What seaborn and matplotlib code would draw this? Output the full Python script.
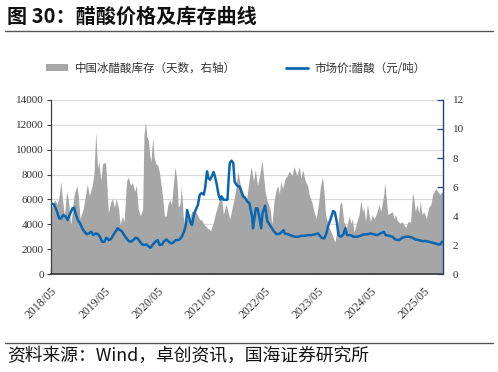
import matplotlib
matplotlib.use("Agg")
import matplotlib.pyplot as plt
import matplotlib.dates as mdates
from matplotlib.patches import Patch
from matplotlib.lines import Line2D
import pandas as pd
import seaborn as sns

# ---------------------------------------------------------------------------
# Data
# ---------------------------------------------------------------------------
# 中国冰醋酸库存（天数，右轴）
inv_dates = [
    "2018-05-01", "2018-05-16", "2018-05-28", "2018-06-13", "2018-06-28", "2018-07-07",
    "2018-07-19", "2018-08-01", "2018-08-16", "2018-08-28", "2018-09-13", "2018-10-07",
    "2018-10-25", "2018-11-04", "2018-11-16", "2018-12-08", "2019-01-05", "2019-01-19",
    "2019-02-07", "2019-02-19", "2019-03-04", "2019-03-16", "2019-03-25", "2019-04-07",
    "2019-04-19", "2019-05-10", "2019-05-19", "2019-05-29", "2019-06-16", "2019-06-25",
    "2019-07-10", "2019-07-22", "2019-08-07", "2019-08-19", "2019-09-01", "2019-09-14",
    "2019-10-01", "2019-10-13", "2019-10-28", "2019-11-10", "2019-11-25", "2019-12-07",
    "2019-12-19", "2020-01-04", "2020-01-19", "2020-01-28", "2020-02-07", "2020-02-16",
    "2020-02-28", "2020-03-07", "2020-03-16", "2020-03-28", "2020-04-07", "2020-04-19",
    "2020-05-01", "2020-05-13", "2020-05-25", "2020-06-04", "2020-06-16", "2020-06-28",
    "2020-07-10", "2020-07-22", "2020-08-04", "2020-08-16", "2020-08-28", "2020-09-10",
    "2020-09-19", "2020-10-01", "2020-10-10", "2020-10-22", "2020-11-04", "2020-11-19",
    "2020-12-04", "2020-12-19", "2021-01-07", "2021-01-22", "2021-02-10", "2021-02-27",
    "2021-03-16", "2021-04-04", "2021-04-28", "2021-05-13", "2021-06-04", "2021-06-25",
    "2021-07-10", "2021-07-25", "2021-08-13", "2021-09-07", "2021-09-28", "2021-10-16",
    "2021-11-01", "2021-11-19", "2021-12-10", "2022-01-01", "2022-01-19", "2022-02-01",
    "2022-02-16", "2022-03-01", "2022-03-16", "2022-03-28", "2022-04-16", "2022-04-28",
    "2022-05-07", "2022-05-22", "2022-06-10", "2022-06-22", "2022-07-07", "2022-07-19",
    "2022-08-01", "2022-08-13", "2022-08-22", "2022-09-04", "2022-09-22", "2022-10-07",
    "2022-10-19", "2022-11-07", "2022-11-22", "2022-12-10", "2022-12-28", "2023-01-07",
    "2023-01-19", "2023-02-07", "2023-02-22", "2023-03-04", "2023-03-22", "2023-04-07",
    "2023-04-22", "2023-05-07", "2023-05-22", "2023-06-04", "2023-06-16", "2023-06-25",
    "2023-07-19", "2023-08-10", "2023-08-28", "2023-09-16", "2023-10-01", "2023-10-13",
    "2023-10-28", "2023-11-16", "2023-12-04", "2023-12-16", "2023-12-25", "2024-01-07",
    "2024-01-25", "2024-02-10", "2024-02-22", "2024-03-04", "2024-03-13", "2024-03-25",
    "2024-04-07", "2024-04-19", "2024-04-28", "2024-05-10", "2024-05-22", "2024-06-01",
    "2024-06-13", "2024-06-25", "2024-07-07", "2024-07-16", "2024-07-28", "2024-08-04",
    "2024-08-16", "2024-08-25", "2024-09-10", "2024-09-25", "2024-10-07", "2024-10-16",
    "2024-10-28", "2024-11-16", "2024-12-01", "2024-12-13", "2024-12-25", "2025-01-10",
    "2025-01-28", "2025-02-10", "2025-02-19", "2025-03-01", "2025-03-13", "2025-03-25",
    "2025-04-04", "2025-04-16", "2025-04-28", "2025-05-16", "2025-06-01", "2025-06-16",
    "2025-06-28", "2025-07-10", "2025-07-19", "2025-08-01", "2025-08-16", "2025-09-04",
]
inv_days = [
    4.5, 4.9, 5.1, 4.8, 5.5, 6.4,
    5.1, 4.0, 5.7, 5.1, 3.4, 5.5,
    6.1, 5.4, 3.8, 4.5, 6.2, 5.4,
    6.1, 6.9, 9.8, 7.3, 7.8, 6.4,
    7.6, 7.7, 6.1, 4.2, 5.0, 5.2,
    4.6, 5.2, 4.5, 3.4, 4.0, 3.6,
    6.4, 6.7, 6.1, 6.3, 5.7, 6.1,
    4.5, 4.0, 4.5, 9.6, 10.5, 9.5,
    9.2, 8.2, 7.8, 9.4, 8.0, 7.6,
    7.5, 7.0, 6.1, 5.3, 4.0, 4.0,
    4.8, 5.1, 4.8, 6.1, 7.4, 6.4,
    4.6, 4.8, 6.1, 4.1, 3.2, 3.9,
    3.6, 4.3, 4.4, 4.2, 3.8, 3.7,
    3.4, 3.2, 3.0, 3.4, 4.3, 5.0,
    5.5, 4.1, 4.8, 3.8, 4.8, 5.7,
    7.1, 6.1, 5.5, 5.2, 6.6, 7.4,
    6.4, 7.2, 6.1, 6.7, 7.8, 6.6,
    5.7, 5.0, 4.5, 3.4, 5.0, 5.7,
    6.1, 5.5, 6.4, 5.9, 6.6, 6.8,
    7.1, 6.8, 7.4, 6.8, 7.4, 6.6,
    7.2, 6.4, 6.1, 5.5, 5.0, 4.3,
    3.8, 4.8, 6.1, 6.7, 5.5, 4.1,
    3.2, 2.7, 2.2, 3.2, 4.8, 5.0,
    3.6, 3.2, 4.0, 3.5, 3.8, 2.9,
    3.6, 4.1, 5.1, 4.3, 4.6, 3.6,
    4.8, 4.1, 3.6, 4.1, 3.8, 4.0,
    4.3, 4.8, 4.3, 4.8, 5.5, 6.3,
    5.0, 4.1, 4.2, 4.3, 3.8, 4.1,
    3.7, 3.5, 3.6, 3.4, 3.2, 3.6,
    3.6, 5.6, 5.2, 4.3, 4.8, 4.2,
    5.0, 4.1, 4.3, 3.8, 4.6, 4.8,
    5.5, 5.7, 5.9, 5.7, 5.5, 5.7,
]

# 市场价:醋酸（元/吨）
price_dates = [
    "2018-05-02", "2018-05-23", "2018-06-10", "2018-06-25", "2018-07-07", "2018-07-25",
    "2018-08-10", "2018-08-23", "2018-09-10", "2018-09-25", "2018-10-07", "2018-10-16",
    "2018-11-01", "2018-11-16", "2018-12-01", "2018-12-16", "2019-01-01", "2019-01-16",
    "2019-02-01", "2019-02-15", "2019-03-04", "2019-03-19", "2019-04-01", "2019-04-16",
    "2019-05-01", "2019-05-16", "2019-06-01", "2019-06-16", "2019-07-01", "2019-07-16",
    "2019-08-01", "2019-08-16", "2019-09-01", "2019-09-14", "2019-10-01", "2019-10-16",
    "2019-11-01", "2019-11-16", "2019-12-01", "2019-12-16", "2020-01-01", "2020-01-16",
    "2020-01-28", "2020-02-16", "2020-03-01", "2020-03-13", "2020-03-29", "2020-04-16",
    "2020-05-01", "2020-05-14", "2020-06-01", "2020-06-14", "2020-07-01", "2020-07-16",
    "2020-08-01", "2020-08-16", "2020-09-01", "2020-09-13", "2020-09-28", "2020-10-13",
    "2020-10-28", "2020-11-10", "2020-11-19", "2020-11-28", "2020-12-10", "2020-12-22",
    "2021-01-04", "2021-01-16", "2021-02-01", "2021-02-13", "2021-02-27", "2021-03-13",
    "2021-03-22", "2021-04-04", "2021-04-13", "2021-04-25", "2021-05-07", "2021-05-19",
    "2021-05-28", "2021-06-10", "2021-06-22", "2021-07-04", "2021-07-13", "2021-07-25",
    "2021-08-10", "2021-08-22", "2021-09-01", "2021-09-07", "2021-09-19", "2021-10-01",
    "2021-10-10", "2021-10-22", "2021-11-04", "2021-11-13", "2021-11-25", "2021-12-07",
    "2021-12-22", "2022-01-04", "2022-01-19", "2022-02-07", "2022-02-13", "2022-03-04",
    "2022-03-16", "2022-03-28", "2022-04-10", "2022-04-19", "2022-05-07", "2022-05-22",
    "2022-06-13", "2022-07-04", "2022-07-25", "2022-08-16", "2022-09-10", "2022-09-19",
    "2022-10-13", "2022-11-04", "2022-11-28", "2022-12-19", "2023-01-13", "2023-02-04",
    "2023-02-27", "2023-03-19", "2023-04-13", "2023-05-04", "2023-05-28", "2023-06-16",
    "2023-07-01", "2023-07-13", "2023-08-01", "2023-08-16", "2023-08-28", "2023-09-10",
    "2023-09-22", "2023-10-10", "2023-10-25", "2023-11-07", "2023-11-19", "2023-12-13",
    "2024-01-04", "2024-01-28", "2024-02-19", "2024-03-13", "2024-04-07", "2024-04-28",
    "2024-05-22", "2024-06-13", "2024-07-07", "2024-07-28", "2024-08-10", "2024-09-01",
    "2024-09-25", "2024-10-16", "2024-11-10", "2024-12-01", "2024-12-25", "2025-01-16",
    "2025-02-10", "2025-03-01", "2025-03-25", "2025-04-16", "2025-05-10", "2025-06-01",
    "2025-06-22", "2025-07-16", "2025-08-07", "2025-08-19", "2025-09-01",
]
price_vals = [
    5690, 5580, 5050, 4500, 4450, 4750,
    4610, 4340, 4880, 5280, 5340, 4880,
    4340, 4080, 3680, 3400, 3200, 3270,
    3400, 3130, 3270, 3200, 3000, 2600,
    2600, 2920, 2730, 2810, 3130, 3400,
    3680, 3540, 3400, 3130, 2860, 2650,
    2600, 2730, 2920, 2860, 2600, 2380,
    2330, 2380, 2190, 2110, 2380, 2600,
    2730, 2330, 2380, 2650, 2780, 2600,
    2460, 2540, 2730, 2730, 2780, 3000,
    3400, 3940, 5150, 4750, 4200, 3940,
    4750, 5150, 5580, 6380, 6520, 6380,
    6920, 8260, 7720, 7590, 7860, 8210,
    7860, 7190, 6380, 5980, 6250, 5980,
    5980, 5980, 7990, 8930, 9120, 8930,
    7450, 7190, 7050, 7050, 6650, 6250,
    6110, 5850, 5700, 4610, 3670, 5280,
    5280, 4610, 3670, 4880, 5500, 4250,
    3860, 3460, 3190, 3250, 3530, 3250,
    3190, 3080, 3000, 3000, 3080, 3080,
    3130, 3130, 3190, 3270, 2920, 2860,
    3270, 3860, 4500, 5070, 4960, 4200,
    3130, 3000, 3190, 3680, 3130, 3130,
    3000, 3000, 3080, 3190, 3190, 3270,
    3190, 3130, 3270, 3400, 3130, 3080,
    3000, 2780, 2730, 2920, 3000, 3000,
    2920, 2780, 2730, 2650, 2650, 2600,
    2540, 2460, 2380, 2380, 2600,
]

x_ticks = ["2018-05-01", "2019-05-01", "2020-05-01", "2021-05-01",
           "2022-05-01", "2023-05-01", "2024-05-01", "2025-05-01"]
x_range = ["2018-05-01", "2025-09-07"]
price_ticks = list(range(0, 14001, 2000))
days_ticks = list(range(0, 13, 2))

TITLE = "图 30：醋酸价格及库存曲线"
INV_LABEL = "中国冰醋酸库存（天数，右轴）"
PRICE_LABEL = "市场价:醋酸（元/吨）"
SOURCE = "资料来源：Wind，卓创资讯，国海证券研究所"

# ---------------------------------------------------------------------------
# Style
# ---------------------------------------------------------------------------
sns.set_theme(style="white")
plt.rcParams["font.family"] = ["Noto Sans CJK SC", "DejaVu Sans"]

GRAY = "#a6a6a6"
BLUE = "#0a66b0"
NAVY = "#24408e"
AXIS = "#404040"
GRID = "#d9d9d9"
TEXT = "#333333"
NUM_FONT = "Liberation Serif"

inv = pd.DataFrame({"date": pd.to_datetime(inv_dates), "days": inv_days})
price = pd.DataFrame({"date": pd.to_datetime(price_dates), "price": price_vals})

fig = plt.figure(figsize=(4.98, 3.72), dpi=100)
ax = fig.add_axes([0.1024, 0.2634, 0.7872, 0.4678])   # inventory (right axis), drawn below
ax2 = ax.twinx()                                       # price (left axis), drawn on top

ax.set_ylim(0, 12)
ax2.set_ylim(0, 14000)
ax.set_xlim(pd.to_datetime(x_range[0]), pd.to_datetime(x_range[1]))

# grid follows the left (price) scale but must sit under the grey area
for lvl in price_ticks[1:]:
    ax.axhline(lvl * 12 / 14000, color=GRID, lw=0.8, zorder=0)

ax.fill_between(inv["date"], inv["days"], color=GRAY, lw=0, zorder=1)
sns.lineplot(data=price, x="date", y="price", ax=ax2, color=BLUE, lw=1.8)

# --- axes sides ---
ax.yaxis.tick_right()
ax2.yaxis.tick_left()
ax.set_yticks(days_ticks)
ax2.set_yticks(price_ticks)
for a in (ax, ax2):
    a.set_xlabel("")
    a.set_ylabel("")

for s in ax2.spines.values():
    s.set_visible(False)
ax.spines["top"].set_visible(False)
ax.spines["left"].set_color(AXIS)
ax.spines["left"].set_linewidth(0.9)
ax.spines["bottom"].set_color(AXIS)
ax.spines["bottom"].set_linewidth(1.3)
ax.spines["right"].set_color(NAVY)
ax.spines["right"].set_linewidth(1.0)

ax.tick_params(axis="y", right=True, left=False, direction="in", length=4,
               width=0.9, color=NAVY, labelsize=8, labelcolor=TEXT, pad=7)
ax2.tick_params(axis="y", left=True, right=False, direction="out", length=3,
                width=0.8, color=AXIS, labelsize=8, labelcolor=TEXT, pad=2)
ax.tick_params(axis="x", bottom=True, direction="in", length=4, width=0.9,
               color=AXIS, labelsize=8.5, labelcolor=TEXT, pad=8)

ax.set_xticks(pd.to_datetime(x_ticks))
ax.xaxis.set_major_formatter(mdates.DateFormatter("%Y/%m"))
plt.setp(ax.get_xticklabels(), rotation=45, ha="right", va="top",
         rotation_mode="anchor", family=NUM_FONT)
plt.setp(ax.get_yticklabels(), family=NUM_FONT)
plt.setp(ax2.get_yticklabels(), family=NUM_FONT)

# --- legend ---
handles = [Patch(facecolor=GRAY, edgecolor="none", label=INV_LABEL),
           Line2D([], [], color=BLUE, lw=2, label=PRICE_LABEL)]
leg = fig.legend(handles=handles, loc="center", bbox_to_anchor=(0.474, 0.817),
                 ncol=2, frameon=False, fontsize=8.3, handlelength=1.9,
                 handleheight=0.6, handletextpad=0.6, columnspacing=4.3)
for t in leg.get_texts():
    t.set_color(TEXT)

# --- title, source and rules ---
fig.text(0.014, 0.9556, TITLE, fontsize=14.5, fontweight="bold", va="center",
         ha="left", color="#111111")
fig.add_artist(Line2D([0.01, 0.99], [0.917, 0.917], transform=fig.transFigure,
                      color="#555555", lw=1.0))
fig.add_artist(Line2D([0.01, 0.99], [0.078, 0.078], transform=fig.transFigure,
                      color="#555555", lw=1.0))
fig.text(0.014, 0.042, SOURCE, fontsize=12.8, va="center", ha="left", color="#111111")

fig.savefig("out.png", dpi=100)
